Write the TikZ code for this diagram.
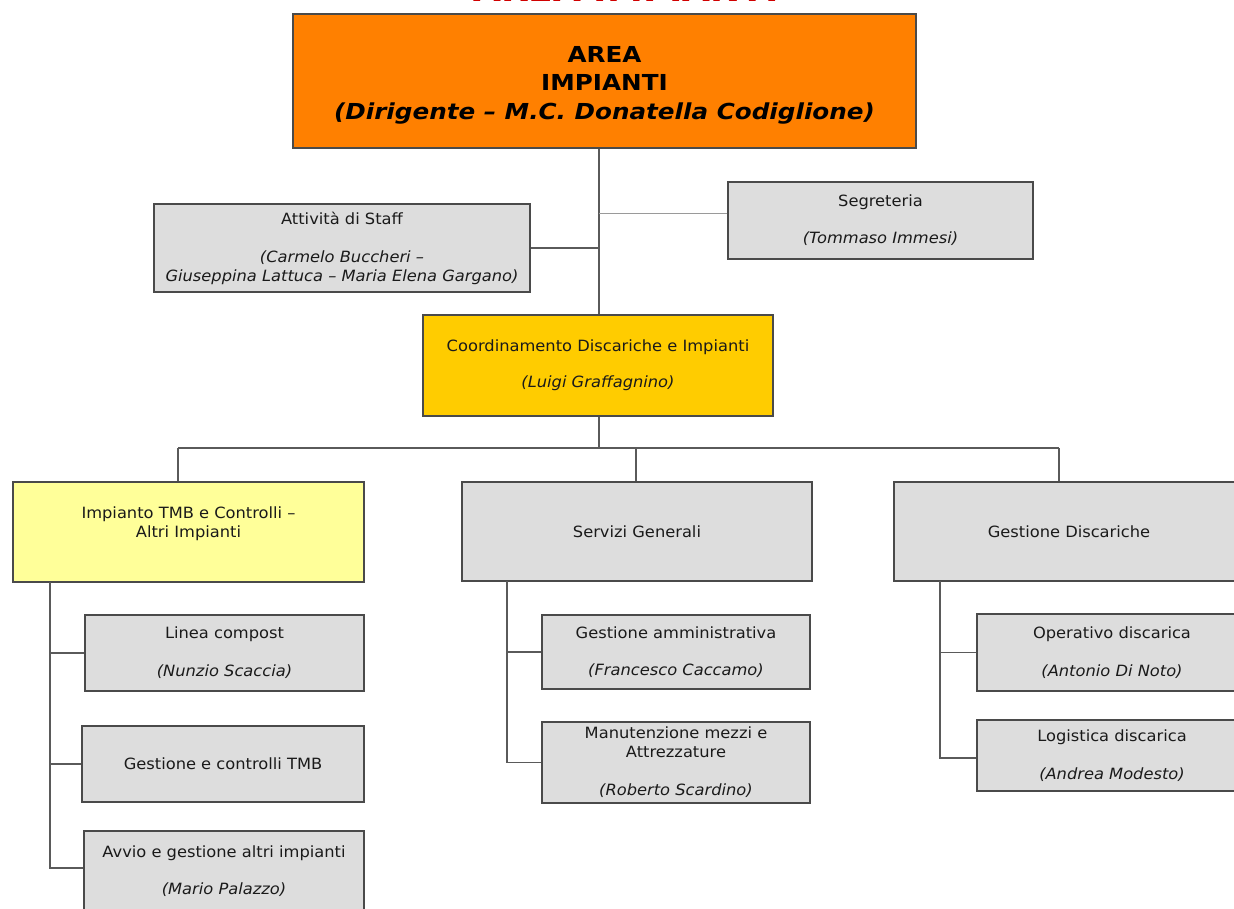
\documentclass[tikz,border=0pt]{standalone}
\usepackage{fontspec}
\setmainfont{DejaVu Sans}
\newfontfamily\bodyfam{DejaVu Sans}[FakeStretch=1.05]
\newfontfamily\headfam{DejaVu Sans}[FakeStretch=1.12]
\definecolor{boxgray}{HTML}{DDDDDD}
\definecolor{bordergray}{HTML}{4A4A4A}
\definecolor{linegray}{HTML}{5A5A5A}
\definecolor{lightline}{HTML}{9A9A9A}
\definecolor{orangebox}{HTML}{FF8000}
\definecolor{goldbox}{HTML}{FFCC00}
\definecolor{paleyellow}{HTML}{FFFF99}
\definecolor{titlered}{HTML}{D00000}
\definecolor{textcol}{HTML}{1A1A1A}
\begin{document}
\begin{tikzpicture}[x=1pt,y=-1pt,
  box/.style={draw=bordergray, line width=1.2pt, fill=boxgray, inner sep=0pt,
    align=center, text=textcol, font=\bodyfam\fontsize{15.5}{19}\selectfont},
  conn/.style={draw=linegray, line width=1.1pt},
  connlight/.style={draw=lightline, line width=1pt}]
\useasboundingbox (0,0) rectangle (1234,909);
\clip (0,0) rectangle (1234,909);
\fill[white] (0,0) rectangle (1234,909);

% cut-off title
\node[anchor=base, text=titlered, font=\bfseries\fontsize{36}{40}\selectfont, inner sep=0pt] (title) at (626,2) {AREA IMPIANTI};

% top box
\node[box, fill=orangebox, minimum width=623pt, minimum height=134pt,
  font=\headfam\bfseries\fontsize{22}{28.5}\selectfont, text=black] (top) at (604.5,81)
  {\\[-4pt]AREA\\IMPIANTI\\\itshape (Dirigente – M.C. Donatella Codiglione)};

% staff and segreteria
\node[box, minimum width=376pt, minimum height=88pt] (staff) at (342,248)
  {Attività di Staff\\[19pt]\itshape (Carmelo Buccheri –\\\itshape Giuseppina Lattuca – Maria Elena Gargano)};
\node[box, minimum width=305pt, minimum height=77pt] (seg) at (880.5,220.5)
  {Segreteria\\[18pt]\itshape (Tommaso Immesi)};

% coordinamento
\node[box, fill=goldbox, minimum width=350pt, minimum height=101pt] (coord) at (598,365.5)
  {Coordinamento Discariche e Impianti\\[17pt]\itshape (Luigi Graffagnino)};

% second level
\node[box, fill=paleyellow, minimum width=351pt, minimum height=100pt] (imp) at (188.5,532)
  {Impianto TMB e Controlli –\\Altri Impianti\\~};
\node[box, minimum width=350pt, minimum height=99pt] (serv) at (637,531.5) {Servizi Generali};
\node[box, minimum width=350pt, minimum height=99pt] (gdis) at (1069,531.5) {Gestione Discariche};

% left column
\node[box, minimum width=279pt, minimum height=76pt] (linea) at (224.5,653)
  {Linea compost\\[19pt]\itshape (Nunzio Scaccia)};
\node[box, minimum width=282pt, minimum height=76pt] (gtmb) at (223,764)
  {Gestione e controlli TMB};
\node[box, minimum width=280pt, minimum height=81pt] (avvio) at (224,871.5)
  {Avvio e gestione altri impianti\\[18pt]\itshape (Mario Palazzo)};

% middle column
\node[box, minimum width=268pt, minimum height=74pt] (gamm) at (676,652)
  {Gestione amministrativa\\[18pt]\itshape (Francesco Caccamo)};
\node[box, minimum width=268pt, minimum height=81pt] (manu) at (676,762.5)
  {Manutenzione mezzi e\\Attrezzature\\[19pt]\itshape (Roberto Scardino)};

% right column
\node[box, minimum width=270pt, minimum height=77pt] (oper) at (1112,652.5)
  {Operativo discarica\\[19pt]\itshape (Antonio Di Noto)};
\node[box, minimum width=270pt, minimum height=71pt] (logi) at (1112,755.5)
  {Logistica discarica\\[19pt]\itshape (Andrea Modesto)};

% coordinates of the connector grid
\coordinate (bus) at (599,448);
\coordinate (busL) at (178,448);
\coordinate (busM) at (636,448);
\coordinate (busR) at (1059,448);
\coordinate (spL) at (50,582);
\coordinate (spM) at (507,581);
\coordinate (spR) at (940,581);

% connectors
\draw[conn] (top.south -| bus) -- (coord.north -| bus);
\draw[conn] (staff.east) -- (staff.east -| bus);
\draw[connlight] ([yshift=6.5pt]seg.west) -- ([yshift=6.5pt]seg.west -| bus);
\draw[conn] (coord.south -| bus) -- (bus);
\draw[conn] (busL) -- (busR);
\draw[conn] (busL) -- (busL |- imp.north);
\draw[conn] (busM) -- (busM |- serv.north);
\draw[conn] (busR) -- (busR |- gdis.north);

\draw[conn] (spL) |- ([yshift=3.5pt]avvio.west);
\draw[conn] (linea.west -| spL) -- (linea.west);
\draw[conn] (gtmb.west -| spL) -- (gtmb.west);

\draw[conn] (spM) |- (manu.west);
\draw[conn] (gamm.west -| spM) -- (gamm.west);

\draw[conn] (spR) |- ([yshift=-2.5pt]logi.west);
\draw[conn] (oper.west -| spR) -- (oper.west);
\end{tikzpicture}
\end{document}
